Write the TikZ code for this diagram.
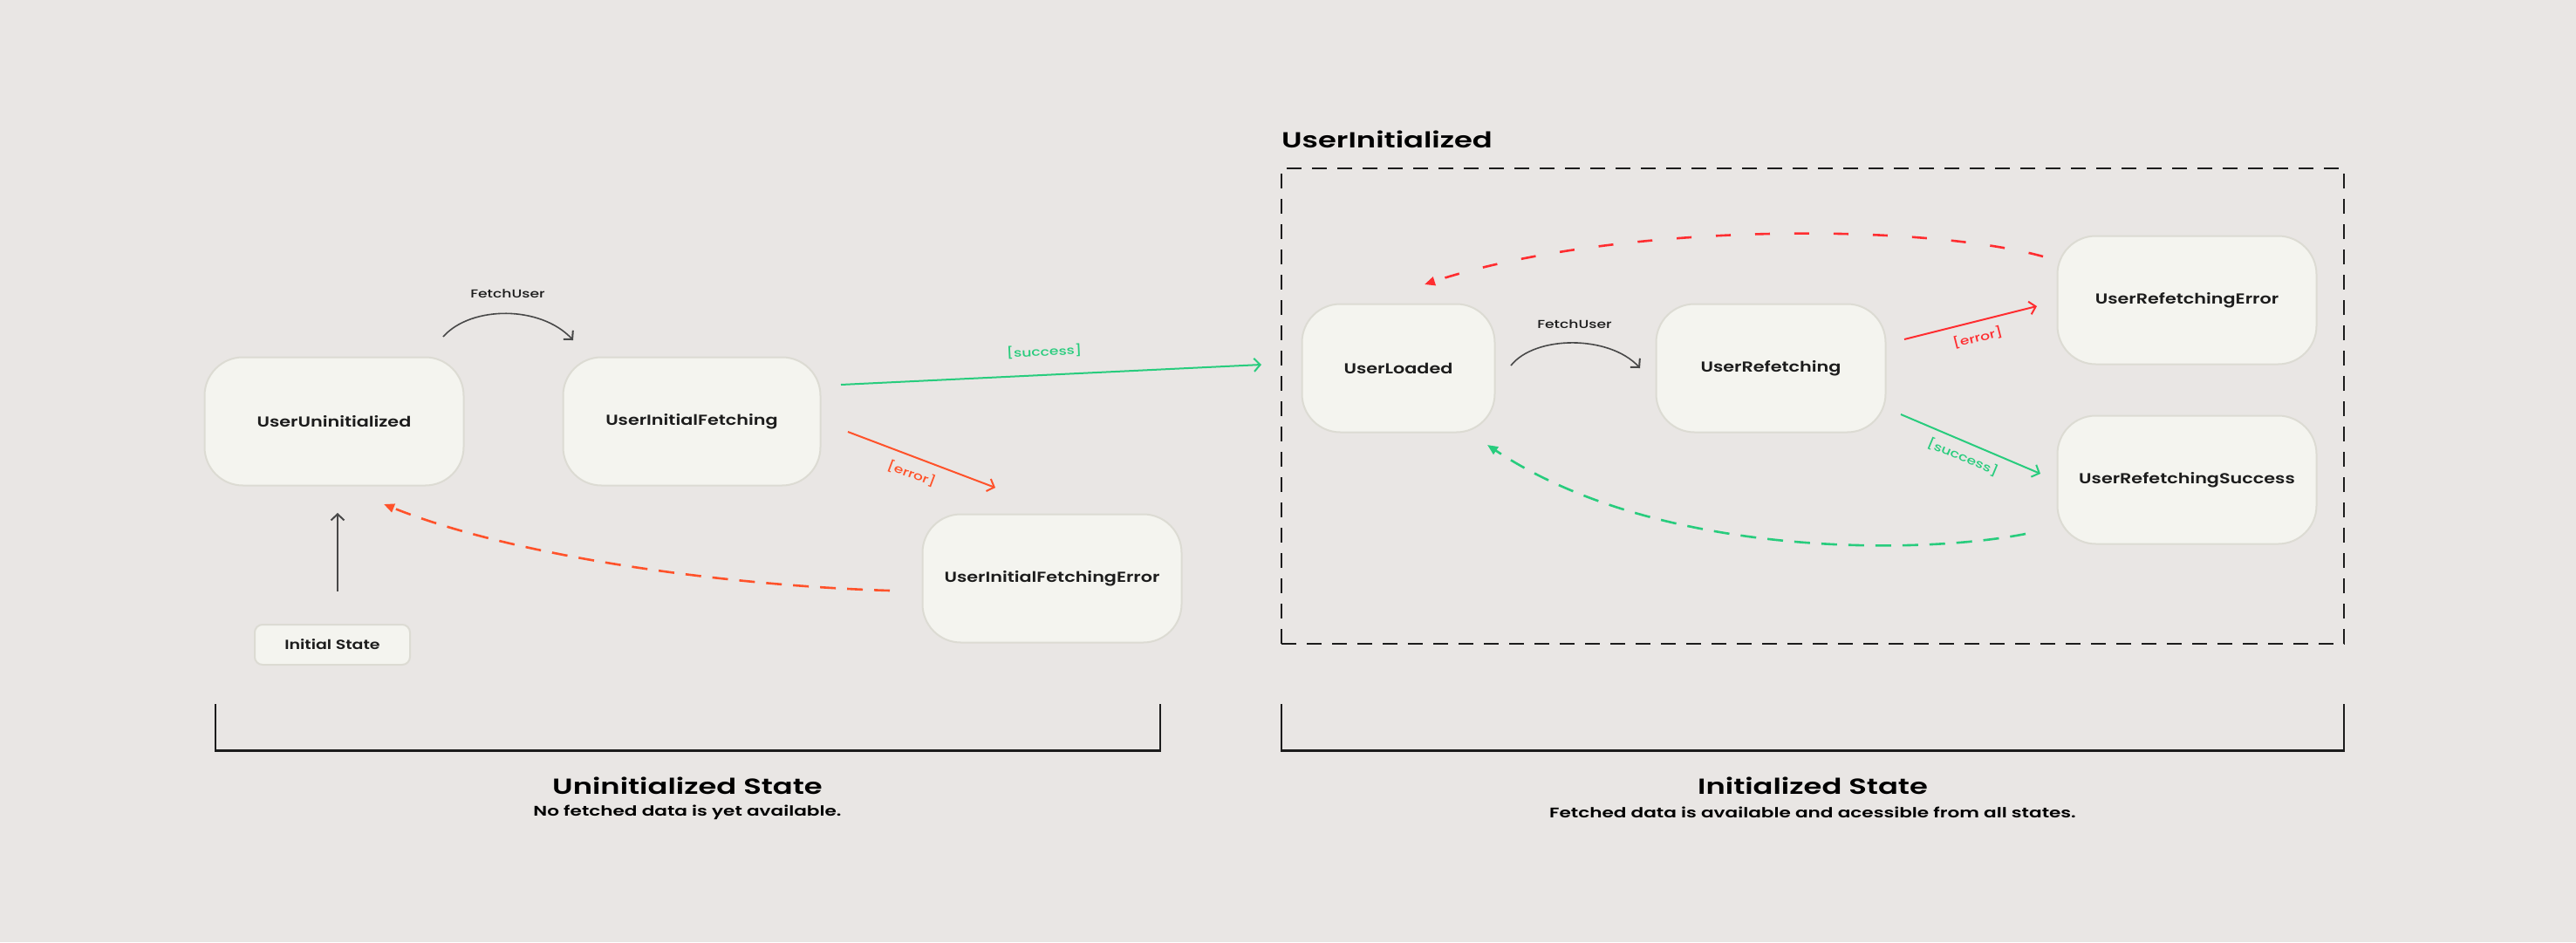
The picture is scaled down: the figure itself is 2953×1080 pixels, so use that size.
\documentclass[tikz,border=0pt]{standalone}
\usepackage{fontspec}
\setmainfont{Poppins}
\newfontfamily\medfont{Poppins Medium}[FakeStretch=1.3]
\newfontfamily\nodefont{Poppins SemiBold}[FakeStretch=1.25]
\newfontfamily\headfont{Poppins SemiBold}[FakeStretch=1.35]
\usetikzlibrary{arrows.meta}
\definecolor{bg}{RGB}{233,230,228}
\definecolor{nodefill}{RGB}{244,244,239}
\definecolor{nodeborder}{RGB}{220,219,211}
\definecolor{ink}{RGB}{28,28,28}
\definecolor{arrowgrey}{RGB}{72,72,72}
\definecolor{errA}{RGB}{255,82,42}
\definecolor{errB}{RGB}{255,45,48}
\definecolor{okgreen}{RGB}{40,204,125}
\tikzset{
  statebox/.style={draw=nodeborder, line width=2, fill=nodefill, rounded corners=44,
    minimum height=147, text=ink, font=\nodefont\fontsize{16.6}{20}\selectfont, inner sep=0},
  smallbox/.style={draw=nodeborder, line width=2, fill=nodefill, rounded corners=9,
    minimum width=178, minimum height=46, text=ink, font=\nodefont\fontsize{15.2}{17}\selectfont, inner sep=0},
  evlabel/.style={font=\medfont\fontsize{13.2}{15}\selectfont, inner sep=0},
  openhead/.style={-{Straight Barb[length=7, width=15, line width=2]}},
  filledhead/.style={-{Triangle[length=12, width=10]}},
  plainarrow/.style={draw=arrowgrey, line width=1.6, openhead},
  solidarrow/.style={line width=2, openhead},
  dasharrow/.style={line width=2.6, dash pattern=on 18 off 13, filledhead},
  groupbox/.style={draw=ink, line width=2.6, dash pattern=on 17 off 12, inner sep=0},
  title/.style={font=\headfont\fontsize{25}{28}\selectfont, text=black, inner sep=0},
  subtitle/.style={font=\headfont\fontsize{16}{18}\selectfont, text=black, inner sep=0},
}
\begin{document}
\begin{tikzpicture}[x=1pt,y=-1pt]
\fill[bg] (0,0) rectangle (2953,1080);
\useasboundingbox (0,0) rectangle (2953,1080);

% left group
\node[statebox, minimum width=297] (uu) at (383,483) {UserUninitialized};
\node[statebox, minimum width=295] (uif) at (793,483) {UserInitialFetching};
\node[statebox, minimum width=297] (uife) at (1206,663) {UserInitialFetchingError};
\node[smallbox] (init) at (381,739) {Initial State};

% initial arrow
\coordinate (initTop) at (387,588);
\draw[plainarrow] (init.north -| initTop) ++(0,-37) coordinate (initFrom) -- (initTop);

% FetchUser arc (left)
\coordinate (fu1s) at (508,386);
\coordinate (fu1e) at (657,390);
\draw[plainarrow] (fu1s) .. controls (540,350) and (620,350) .. (fu1e);
\node[evlabel, text=ink] (fu1l) at (582,337) {FetchUser};

% success (left)
\coordinate (s1s) at (964,441);
\coordinate (s1e) at (1446,418);
\draw[solidarrow, draw=okgreen] (s1s) -- (s1e);
\node[evlabel, text=okgreen, rotate=2.7] (s1l) at (1197,403) {[success]};

% error (left)
\coordinate (e1s) at (972,495);
\coordinate (e1e) at (1141,559);
\draw[solidarrow, draw=errA] (e1s) -- (e1e);
\node[evlabel, text=errA, rotate=-20.7] (e1l) at (1045,543) {[error]};

% dashed back to UserUninitialized
\coordinate (r1s) at (1020,677);
\coordinate (r1e) at (440,578);
\draw[dasharrow, draw=errA] (r1s) .. controls (850,672) and (600,642) .. (r1e);

% right group
\node[title, anchor=west] (gtitle) at (1469,160) {UserInitialized};
\node[groupbox, minimum width=1218, minimum height=545] (grp) at (2078,465.5) {};

\node[statebox, minimum width=221] (ul) at (1603,422) {UserLoaded};
\node[statebox, minimum width=263] (ur) at (2030,422) {UserRefetching};
\node[statebox, minimum width=297] (ure) at (2507,344) {UserRefetchingError};
\node[statebox, minimum width=297] (urs) at (2507,550) {UserRefetchingSuccess};

% FetchUser arc (right)
\coordinate (fu2s) at (1732,419);
\coordinate (fu2e) at (1880,422);
\draw[plainarrow] (fu2s) .. controls (1760,384) and (1845,384) .. (fu2e);
\node[evlabel, text=ink] (fu2l) at (1805,372) {FetchUser};

% error (right)
\coordinate (e2s) at (2183,389);
\coordinate (e2e) at (2335,351);
\draw[solidarrow, draw=errB] (e2s) -- (e2e);
\node[evlabel, text=errB, rotate=14.3] (e2l) at (2267,387) {[error]};

% success (right)
\coordinate (s2s) at (2179,475);
\coordinate (s2e) at (2339,543);
\draw[solidarrow, draw=okgreen] (s2s) -- (s2e);
\node[evlabel, text=okgreen, rotate=-22.7] (s2l) at (2250,524) {[success]};

% dashed red back to UserLoaded
\coordinate (r2s) at (2342,294);
\coordinate (r2e) at (1633,326);
\draw[dasharrow, draw=errB, dash pattern=on 17 off 28] (r2s) .. controls (2200,255) and (1850,255) .. (r2e);

% dashed green back to UserLoaded
\coordinate (g2s) at (2322,612);
\coordinate (g2e) at (1705,510);
\draw[dasharrow, draw=okgreen] (g2s) .. controls (2200,636) and (1900,640) .. (g2e);

% brackets
\coordinate (b1a) at (247,807);
\coordinate (b1b) at (1330,807);
\draw[ink, line width=1.5] (b1a) -- (b1a |- 0,860);
\draw[ink, line width=1.5] (b1b) -- (b1b |- 0,860);
\draw[ink, line width=3] (246.25,860) -- (1330.75,860);
\coordinate (b2a) at (1469,807);
\coordinate (b2b) at (2687,807);
\draw[ink, line width=1.5] (b2a) -- (b2a |- 0,860);
\draw[ink, line width=1.5] (b2b) -- (b2b |- 0,860);
\draw[ink, line width=3] (1468.25,860) -- (2687.75,860);

\node[title] (t1) at (788,901) {Uninitialized State};
\node[subtitle] (st1) at (788,931) {No fetched data is yet available.};
\node[title] (t2) at (2078,901) {Initialized State};
\node[subtitle] (st2) at (2078,931) {Fetched data is available and acessible from all states.};
\end{tikzpicture}
\end{document}
